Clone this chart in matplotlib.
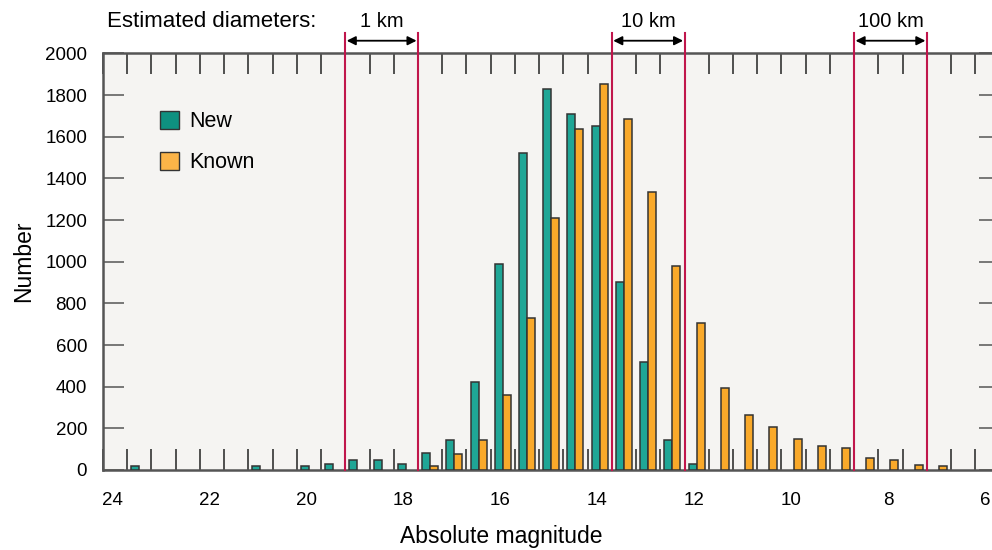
import matplotlib
matplotlib.use("Agg")
import matplotlib.pyplot as plt
from matplotlib.patches import Patch

plt.rcParams['font.family'] = ['Liberation Sans', 'DejaVu Sans']

# Bin centres (absolute magnitude, axis runs from faint to bright)
bin_centers = [23.95, 23.45, 22.95, 22.45, 21.95, 21.45, 20.95, 20.45, 19.95, 19.45,
               18.95, 18.45, 17.95, 17.45, 16.95, 16.45, 15.95, 15.45, 14.95, 14.45,
               13.95, 13.45, 12.95, 12.45, 11.95, 11.45, 10.95, 10.45, 9.95, 9.45,
               8.95, 8.45, 7.95, 7.45, 6.95]
new_counts = [0, 20, 0, 0, 0, 0, 20, 0, 20, 30,
              50, 50, 30, 80, 145, 422, 990, 1520, 1828, 1708,
              1653, 904, 520, 142, 28, 0, 0, 0, 0, 0,
              0, 0, 0, 0, 0]
known_counts = [0, 0, 0, 0, 0, 0, 0, 0, 0, 0,
                0, 0, 0, 19, 75, 146, 362, 728, 1209, 1636,
                1855, 1684, 1337, 981, 707, 392, 264, 205, 147, 115,
                107, 56, 48, 22, 21]
xtick_labels = [24, 22, 20, 18, 16, 14, 12, 10, 8, 6]
yticks = [0, 200, 400, 600, 800, 1000, 1200, 1400, 1600, 1800, 2000]
diam_labels = ['1 km', '10 km', '100 km']
diam_bounds = [(19.2, 17.7), (13.7, 12.2), (8.7, 7.2)]

TEAL = '#1fa696'
ORANGE = '#f9a92a'
TEAL_LEG = '#0e9180'
ORANGE_LEG = '#fbb448'
RED = '#c0164c'
SPINE = '#555555'

fig = plt.figure(figsize=(9.92, 5.5), dpi=100)
ax = fig.add_axes([103/992, 80/550, 897/992, 416.5/550])
ax.set_facecolor('#f5f4f2')

bw = 0.165
xs_new = [c + bw/2 for c in bin_centers]
xs_known = [c - bw/2 for c in bin_centers]
nz_new = [(x, v) for x, v in zip(xs_new, new_counts) if v > 0]
nz_known = [(x, v) for x, v in zip(xs_known, known_counts) if v > 0]
ax.bar([p[0] for p in nz_new], [p[1] for p in nz_new], width=bw, color=TEAL,
       edgecolor='#333333', linewidth=1.1, zorder=3)
ax.bar([p[0] for p in nz_known], [p[1] for p in nz_known], width=bw, color=ORANGE,
       edgecolor='#333333', linewidth=1.1, zorder=3)

ax.set_xlim(24.2, 24.2 - 897/48.46)
ax.set_ylim(0, 2000)

# minor ticks at bin edges
edges = [c + 0.25 for c in bin_centers] + [bin_centers[-1] - 0.25, bin_centers[-1] - 0.75]
ax.set_xticks(edges, minor=True)
ax.set_xticks(xtick_labels)
ax.set_xticklabels([str(v) for v in xtick_labels])
ax.tick_params(axis='x', which='minor', direction='in', length=15, width=1.1,
               color='#222222', top=True, bottom=True)
ax.tick_params(axis='x', which='major', length=0, pad=15.5, labelsize=13.5)
ax.set_yticks(yticks)
ax.tick_params(axis='y', direction='in', length=15, width=1.1, color=SPINE,
               left=True, right=True, pad=11.5, labelsize=13.5)

for s in ax.spines.values():
    s.set_color(SPINE)
    s.set_linewidth(1.8)

ax.set_xlabel('Absolute magnitude', fontsize=16.5)
ax.xaxis.set_label_coords((501 - 103) / 897, -0.132)
ax.set_ylabel('Number', fontsize=16.5, labelpad=7)

# diameter markers
tr = ax.get_xaxis_transform()
for lab, (a, b) in zip(diam_labels, diam_bounds):
    for xv in (a, b):
        ax.plot([xv, xv], [0, 1.049], color=RED, lw=1.5, transform=tr,
                clip_on=False, zorder=4)
    ax.annotate('', xy=(b, 1.0307), xytext=(a, 1.0307), xycoords=tr,
                textcoords=tr,
                arrowprops=dict(arrowstyle='<|-|>', color='black', lw=1.3,
                                mutation_scale=13, shrinkA=1, shrinkB=1))
    ax.text((a + b) / 2, 1.0643, lab, transform=tr, ha='center', va='baseline',
            fontsize=14.5)

fig.text(107/992, 1 - 26.7/550, 'Estimated diameters:', ha='left', va='baseline',
         fontsize=16)

handles = [Patch(facecolor=TEAL_LEG, edgecolor='#333333', label='New'),
           Patch(facecolor=ORANGE_LEG, edgecolor='#333333', label='Known')]
ax.legend(handles=handles, loc='upper left', bbox_to_anchor=(57/897, (470-111)/416.5),
          frameon=False, fontsize=15.5, handlelength=0.9, handleheight=0.9,
          handletextpad=0.45, labelspacing=0.9, borderpad=0, borderaxespad=0)

fig.savefig('out.png', dpi=100)
